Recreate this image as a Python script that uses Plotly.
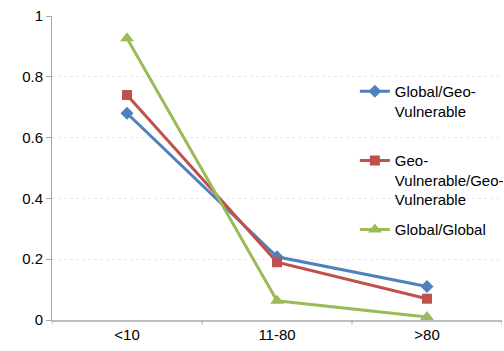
import plotly.graph_objects as go

categories = ["<10", "11-80", ">80"]
global_geo = [0.68, 0.208, 0.11]
geo_geo = [0.74, 0.19, 0.07]
global_global = [0.927, 0.063, 0.01]
names = ["Global/Geo-<br>Vulnerable", "Geo-<br>Vulnerable/Geo-<br>Vulnerable", "Global/Global"]
colors = ["#4F81BD", "#C0504D", "#9BBB59"]
symbols = ["diamond", "square", "triangle-up"]
sizes = [10, 10, 12]
series = [global_geo, geo_geo, global_global]
legend_ids = ["legend", "legend2", "legend3"]

FONT = "Liberation Sans"

fig = go.Figure()
for i, vals in enumerate(series):
    fig.add_trace(go.Scatter(
        x=list(range(len(categories))), y=vals, name=names[i],
        mode="lines+markers",
        line=dict(color=colors[i], width=3),
        marker=dict(symbol=symbols[i], size=sizes[i], color=colors[i]),
        legend=legend_ids[i], showlegend=True,
    ))

leg_common = dict(xanchor="left", yanchor="top", bgcolor="rgba(0,0,0,0)",
                  font=dict(family=FONT, size=15, color="#000000"), valign="top",
                  itemwidth=30, borderwidth=0, visible=True)

fig.update_layout(
    width=504, height=351,
    showlegend=True,
    margin=dict(l=52, r=2, t=16, b=31, autoexpand=False),
    paper_bgcolor="white", plot_bgcolor="white",
    font=dict(family=FONT, size=15, color="#000000"),
    legend=dict(x=0.673, y=0.806, **leg_common),
    legend2=dict(x=0.673, y=0.578, **leg_common),
    legend3=dict(x=0.673, y=0.351, **leg_common),
    xaxis=dict(
        range=[-0.5, 2.5], tickmode="array",
        tickvals=list(range(len(categories))), ticktext=categories,
        showgrid=False, showline=True, linecolor="#BFBFBF", linewidth=2,
        ticks="", zeroline=False, fixedrange=True,
        tickfont=dict(family=FONT, size=15),
    ),
    yaxis=dict(
        range=[0, 1], dtick=0.2, tick0=0,
        showgrid=True, gridcolor="#E3EBF5", griddash="dot", gridwidth=1,
        showline=True, linecolor="#A6A6A6", linewidth=1,
        ticks="outside", ticklen=5, tickcolor="#A6A6A6",
        zeroline=False, tickfont=dict(family=FONT, size=15),
    ),
)

# category boundary tick marks on x axis
for xb in [-0.5, 0.5, 1.5, 2.5]:
    fig.add_shape(type="line", xref="x", yref="paper", x0=xb, x1=xb, y0=0, y1=-0.015,
                  line=dict(color="#A6A6A6", width=1))

fig.write_html("out.html")
